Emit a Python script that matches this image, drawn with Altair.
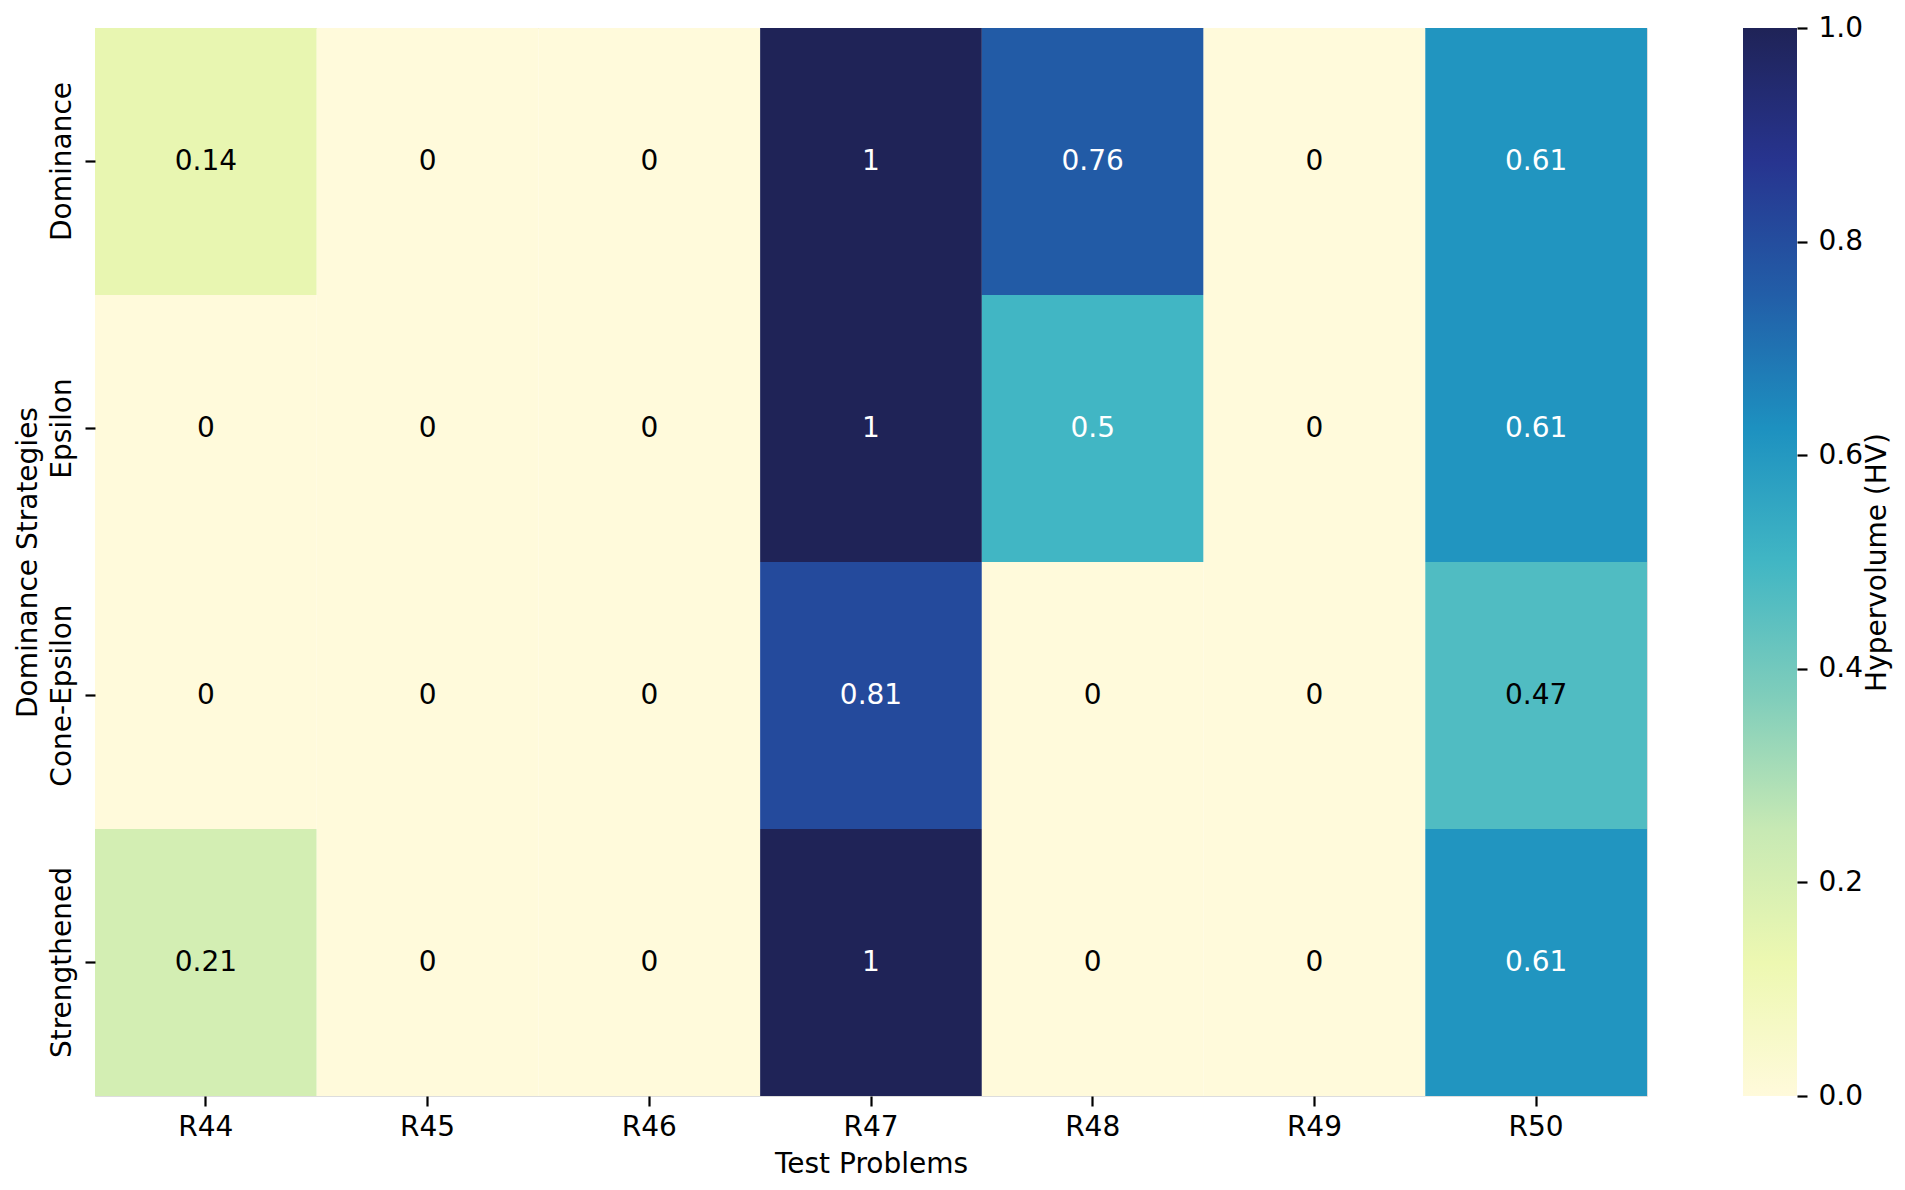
import altair as alt
import pandas as pd

# ---- data ----
problems = ["R44", "R45", "R46", "R47", "R48", "R49", "R50"]
strategies = ["Dominance", "Epsilon", "Cone-Epsilon", "Strengthened"]
hv_dominance = [0.14, 0, 0, 1, 0.76, 0, 0.61]
hv_epsilon = [0, 0, 0, 1, 0.5, 0, 0.61]
hv_cone_epsilon = [0, 0, 0, 0.81, 0, 0, 0.47]
hv_strengthened = [0.21, 0, 0, 1, 0, 0, 0.61]
cbar_ticks = [0.0, 0.2, 0.4, 0.6, 0.8, 1.0]
cbar_range = [0.0, 1.0]

# YlGnBu-like colormap (end colours tuned to the reference picture)
ylgnbu = ["#fffadb", "#edf8b1", "#c7e9b4", "#7fcdbb", "#41b6c4",
          "#1d91c0", "#225ea8", "#27348f", "#1f2357"]
stops_pos = [i / (len(ylgnbu) - 1) for i in range(len(ylgnbu))]

rows = []
for s, vals in zip(strategies, [hv_dominance, hv_epsilon, hv_cone_epsilon, hv_strengthened]):
    for p, v in zip(problems, vals):
        rows.append({"problem": p, "strategy": s, "hv": v})
df = pd.DataFrame(rows)
cbar_df = pd.DataFrame({"lo": [cbar_range[0]], "hi": [cbar_range[1]]})

FONT = "DejaVu Sans"
FS = 28
W, H = 1552, 1068

x_enc = alt.X(
    "problem:N", sort=problems, title="Test Problems",
    scale=alt.Scale(paddingInner=0, paddingOuter=0),
    axis=alt.Axis(labelAngle=0, labelBaseline="top", labelPadding=7, tickSize=10,
                  tickWidth=2.2, tickColor="black", domain=False, labelColor="black",
                  labelFontSize=FS, labelLimit=0, titleFontSize=FS, titleFontWeight="normal",
                  titleX=W / 2, titleY=76, titleBaseline="alphabetic", titleAlign="center",
                  titleColor="black", labelFont=FONT, titleFont=FONT),
)
y_enc = alt.Y(
    "strategy:N", sort=strategies, title="Dominance Strategies",
    scale=alt.Scale(paddingInner=0, paddingOuter=0),
    axis=alt.Axis(labelAngle=270, labelAlign="center", labelBaseline="alphabetic",
                  labelPadding=15, tickSize=10, tickWidth=2.2, tickColor="black",
                  domain=False, labelColor="black", labelFontSize=FS, labelOverlap=False,
                  labelLimit=0,
                  titleFontSize=FS, titleFontWeight="normal", titleAngle=270,
                  titleX=-59, titleY=H / 2, titleBaseline="alphabetic", titleAlign="center",
                  titleColor="black", labelFont=FONT, titleFont=FONT),
)

rect = alt.Chart(df).mark_rect().encode(
    x=x_enc,
    y=y_enc,
    color=alt.Color("hv:Q", scale=alt.Scale(domain=stops_pos, range=ylgnbu, interpolate="rgb"),
                    legend=None),
)
text = alt.Chart(df).mark_text(font=FONT, fontSize=FS, baseline="middle").encode(
    x=alt.X("problem:N", sort=problems),
    y=alt.Y("strategy:N", sort=strategies),
    text=alt.Text("hv:Q", format=".2~g"),
    color=alt.when(alt.datum.hv >= 0.5).then(alt.value("white")).otherwise(alt.value("black")),
)
heat = alt.layer(rect, text)

gradient = {
    "gradient": "linear", "x1": 0, "y1": 1, "x2": 0, "y2": 0,
    "stops": [{"offset": o, "color": c} for o, c in zip(stops_pos, ylgnbu)],
}
cbar = alt.Chart(cbar_df).mark_rect(fill=gradient).encode(
    x=alt.value(1648),
    x2=alt.value(1702),
    y=alt.Y("lo:Q", scale=alt.Scale(domain=cbar_range, nice=False, zero=False),
            title="Hypervolume (HV)",
            axis=alt.Axis(orient="right", offset=150, values=cbar_ticks, format=".1f",
                          tickSize=10, tickWidth=2.2, tickColor="black", domain=False,
                          grid=False, labelPadding=11, labelFontSize=FS, labelColor="black",
                          labelFlush=False, labelBaseline="middle", labelFont=FONT,
                          titleFont=FONT, titleFontSize=FS, titleFontWeight="normal",
                          titleAngle=270, titleX=88, titleY=H / 2, titleBaseline="alphabetic",
                          titleAlign="center", titleColor="black")),
    y2="hi:Q",
)

chart = alt.layer(heat, cbar).resolve_scale(y="independent", color="independent").resolve_axis(
    y="independent"
).properties(
    width=W, height=H,
    autosize=alt.AutoSizeParams(type="none"),
    padding={"left": 87, "top": 20, "right": 248, "bottom": 84},
    background="white",
).configure_view(stroke=None).configure(font=FONT)

chart.save("out.html", embed_options={"renderer": "svg", "actions": False})
